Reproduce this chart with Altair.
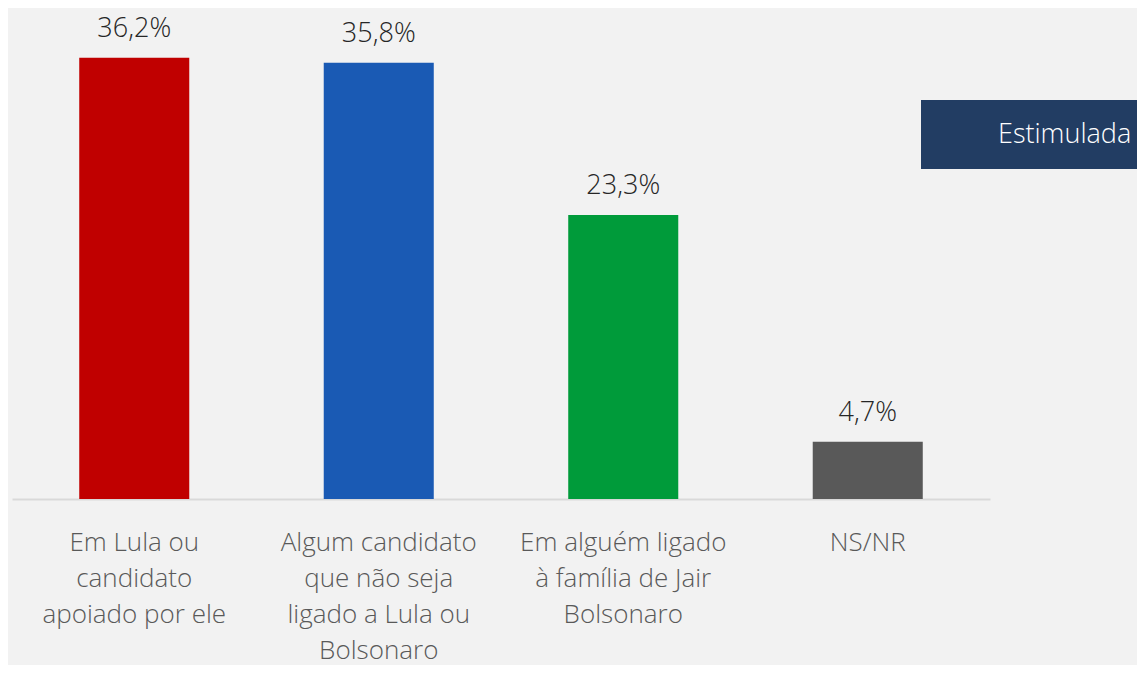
import altair as alt
import pandas as pd

categories = [
    "Em Lula ou|candidato|apoiado por ele",
    "Algum candidato|que não seja|ligado a Lula ou|Bolsonaro",
    "Em alguém ligado|à família de Jair|Bolsonaro",
    "NS/NR",
]
values = [36.2, 35.8, 23.3, 4.7]
value_labels = ["36,2%", "35,8%", "23,3%", "4,7%"]
colors = ["#c00000", "#1a5ab4", "#009b3a", "#595959"]
box_text = ["Estimulada"]

FONT = "Open Sans"

df = pd.DataFrame({"cat": categories, "val": values, "lab": value_labels, "color": colors})
box_df = pd.DataFrame({"t": box_text})

x = alt.X(
    "cat:N",
    sort=None,
    scale=alt.Scale(paddingInner=0.55, paddingOuter=0.275),
    axis=alt.Axis(
        title=None,
        labelAngle=0,
        labelExpr="split(datum.label, '|')",
        labelFontSize=26,
        labelFont=FONT,
        labelFontWeight=300,
        labelColor="#595959",
        labelLineHeight=36,
        labelPadding=30,
        labelLimit=0,
        domainColor="#d9d9d9",
        domainWidth=2,
        ticks=False,
        grid=False,
    ),
)
y = alt.Y("val:Q", scale=alt.Scale(domain=[0, 39.3], nice=False), axis=None)

base = alt.Chart(df)
bars = base.mark_bar().encode(x=x, y=y, color=alt.Color("color:N", scale=None))
texts = base.mark_text(
    baseline="alphabetic", dy=-21, fontSize=27, font=FONT, fontWeight=300, color="#262626"
).encode(x=x, y=y, text="lab:N")

box = alt.Chart(box_df).mark_rect(color="#223d63").encode(
    x=alt.value(909), x2=alt.value(1140), y=alt.value(80), y2=alt.value(149)
)
box_label = alt.Chart(box_df).mark_text(
    align="left", baseline="middle", fontSize=27, font=FONT, fontWeight=300, color="white"
).encode(x=alt.value(986), y=alt.value(115), text="t:N")

chart = (
    alt.layer(bars, texts, box, box_label)
    .properties(
        width=978,
        height=479,
        autosize=alt.AutoSizeParams(type="none"),
        padding={"left": 4, "top": 12, "right": 147, "bottom": 166},
        background="#f2f2f2",
    )
    .configure_view(stroke=None)
)

chart.save("out.html", embed_options={"renderer": "svg", "actions": False})
